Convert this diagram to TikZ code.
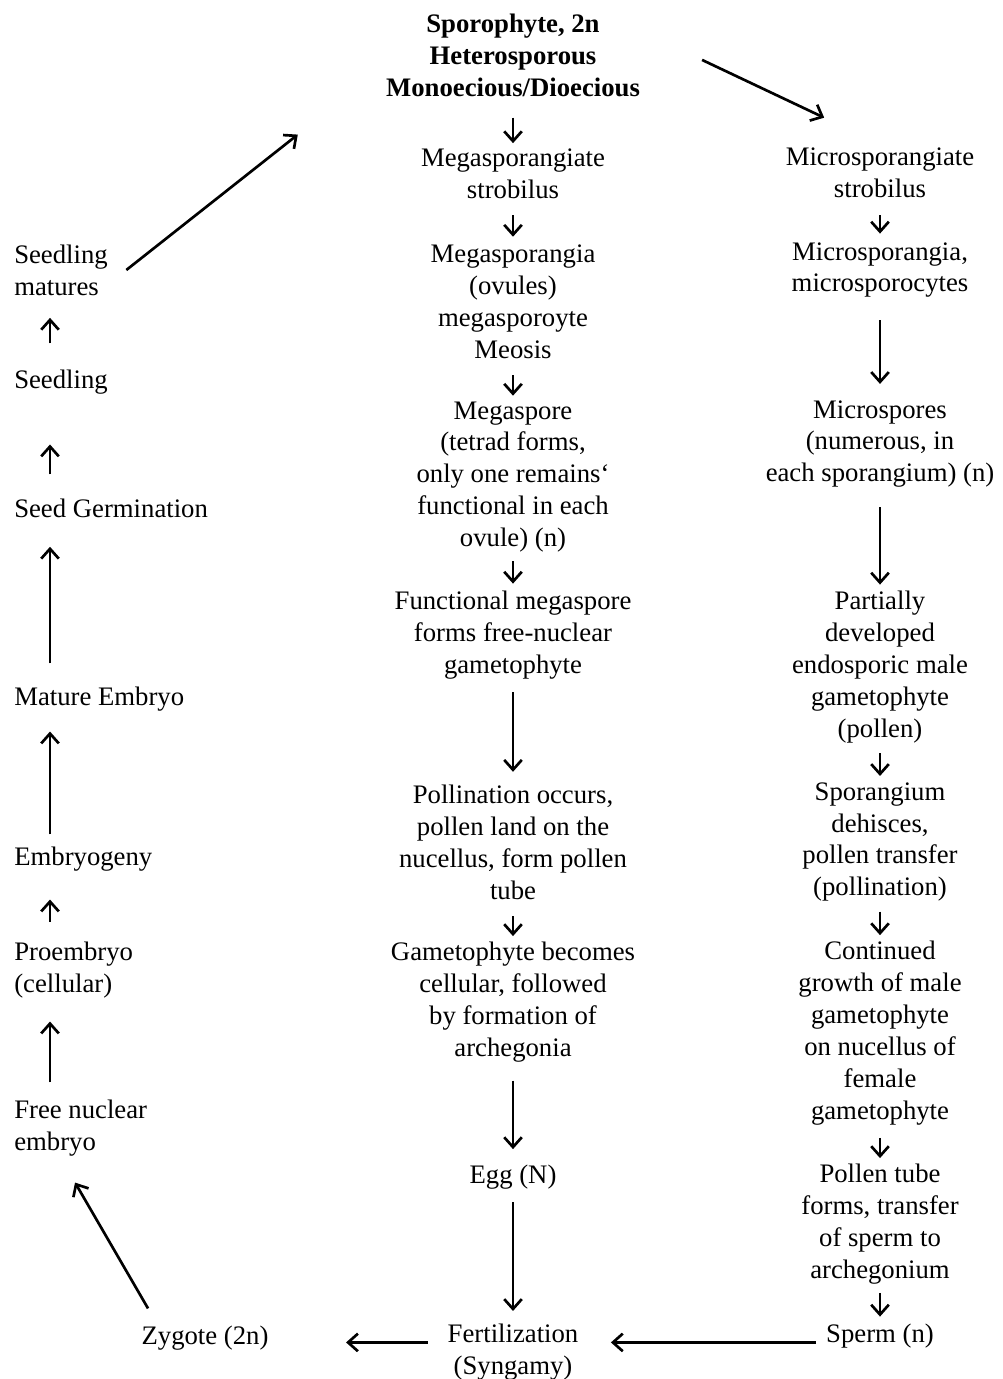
\documentclass[tikz,border=0pt]{standalone}
\usepackage{fontspec}
\setmainfont{Liberation Serif}
\usepackage{tikz}
\usetikzlibrary{arrows.meta}

\tikzset{
  stage/.style={align=center, inner sep=3pt, font=\fontsize{19}{22.7}\selectfont},
  title/.style={stage, font=\fontsize{19}{22.7}\selectfont\bfseries},
  leftstage/.style={stage, align=left, anchor=west, inner xsep=0pt},
  flow/.style={-{Straight Barb[length=7pt,width=12.5pt]}, line width=1.9pt},
}

\begin{document}
\begin{tikzpicture}[x=0.025cm, y=-0.025cm]
  \useasboundingbox (0,0) rectangle (1003,1379);
  % female (centre) column
  \node[title] (spor) at (513,55) {Sporophyte, 2n\\Heterosporous\\Monoecious/Dioecious};
  \node[stage] (megastrob) at (513,174) {Megasporangiate\\strobilus};
  \node[stage] (megaspor) at (513,302) {Megasporangia\\(ovules)\\megasporoyte\\Meosis};
  \node[stage] (megaspore) at (513,477) {Megaspore\\(tetrad forms,\\only one remains`\\functional in each\\ovule) (n)};
  \node[stage] (funcmeg) at (513,635) {Functional megaspore\\forms free-nuclear\\gametophyte};
  \node[stage] (poll) at (513,842) {Pollination occurs,\\pollen land on the\\nucellus, form pollen\\tube};
  \node[stage] (gamcell) at (513,1002) {Gametophyte becomes\\cellular, followed\\by formation of\\archegonia};
  \node[stage] (egg) at (513,1177) {Egg (N)};
  \node[stage] (fert) at (513,1352) {Fertilization\\(Syngamy)};
  % male (right) column
  \node[stage] (microstrob) at (880,173) {Microsporangiate\\strobilus};
  \node[stage] (microspor) at (880,270) {Microsporangia,\\microsporocytes};
  \node[stage] (microspores) at (880,444) {Microspores\\(numerous, in\\each sporangium) (n)};
  \node[stage] (partial) at (880,667) {Partially\\developed\\endosporic male\\gametophyte\\(pollen)};
  \node[stage] (dehisce) at (880,842) {Sporangium\\dehisces,\\pollen transfer\\(pollination)};
  \node[stage] (growth) at (880,1033) {Continued\\growth of male\\gametophyte\\on nucellus of\\female\\gametophyte};
  \node[stage] (tube) at (880,1224) {Pollen tube\\forms, transfer\\of sperm to\\archegonium};
  \node[stage] (sperm) at (880,1336) {Sperm (n)};
  % embryo (left) column
  \node[leftstage] (matures) at (14,270) {Seedling\\matures};
  \node[leftstage] (seedling) at (14,382) {Seedling};
  \node[leftstage] (germ) at (14,508) {Seed Germination};
  \node[leftstage] (mature) at (14,699) {Mature Embryo};
  \node[leftstage] (embgeny) at (14,859) {Embryogeny};
  \node[leftstage] (proemb) at (14,970) {Proembryo\\(cellular)};
  \node[leftstage] (freenuc) at (14,1128) {Free nuclear\\embryo};
  \node[stage] (zygote) at (205,1338) {Zygote (2n)};
  \coordinate (lx) at (50,0);

  % centre arrows
  \draw[flow, shorten <=12pt, shorten >=1pt] (spor) -- (megastrob);
  \draw[flow, shorten <=8.5pt, shorten >=2.8pt] (megastrob) -- (megaspor);
  \draw[flow, shorten <=8.5pt, shorten >=1pt] (megaspor) -- (megaspore);
  \draw[flow, shorten <=3pt, shorten >=2pt] (megaspore) -- (funcmeg);
  \draw[flow, shorten <=6pt, shorten >=6pt] (funcmeg) -- (poll);
  \draw[flow, shorten <=9pt, shorten >=1pt] (poll) -- (gamcell);
  \draw[flow, shorten <=10pt, shorten >=8pt] (gamcell) -- (egg);
  \draw[flow, shorten <=6pt, shorten >=6pt] (egg) -- (fert);
  % right arrows
  \draw[flow, shorten <=9pt, shorten >=3pt] (microstrob) -- (microspor);
  \draw[flow, shorten <=13pt, shorten >=8.5pt] (microspor) -- (microspores);
  \draw[flow, shorten <=10.6pt, shorten >=1.4pt] (microspores) -- (partial);
  \draw[flow, shorten <=4pt, shorten >=1.4pt] (partial) -- (dehisce);
  \draw[flow, shorten <=4pt, shorten >=1pt] (dehisce) -- (growth);
  \draw[flow, shorten <=6pt, shorten >=1pt] (growth) -- (tube);
  \draw[flow, shorten <=3pt, shorten >=2pt] (tube) -- (sperm);
  % left arrows (upwards)
  \draw[flow, shorten <=15.6pt, shorten >=12.8pt] (seedling.north -| lx) -- (matures.south -| lx);
  \draw[flow, shorten <=14pt, shorten >=32.6pt] (germ.north -| lx) -- (seedling.south -| lx);
  \draw[flow, shorten <=13.5pt, shorten >=17.7pt] (mature.north -| lx) -- (germ.south -| lx);
  \draw[flow, shorten <=5.7pt, shorten >=11.3pt] (embgeny.north -| lx) -- (mature.south -| lx);
  \draw[flow, shorten <=11.3pt, shorten >=17pt] (proemb.north -| lx) -- (embgeny.south -| lx);
  \draw[flow, shorten <=9.2pt, shorten >=13.5pt] (freenuc.north -| lx) -- (proemb.south -| lx);
  % cycle links
  \draw[flow] ([xshift=13pt]matures.east) -- ([xshift=-59.6pt,yshift=-24pt]spor.south west);
  \draw[flow] ([xshift=41pt,yshift=-3.5pt]spor.east) -- ([xshift=30.5pt,yshift=18.4pt]microstrob.north west);
  \draw[flow, shorten <=4pt, shorten >=20pt] (sperm.base west) -- (fert.east |- sperm.base west);
  \draw[flow, shorten <=11pt, shorten >=52pt] (fert.west |- sperm.base west) -- (zygote.east |- sperm.base west);
  \draw[flow] ([xshift=7.8pt,yshift=9.2pt]zygote.north west) -- ([xshift=-4pt,yshift=-15.6pt]freenuc.south);
\end{tikzpicture}
\end{document}
